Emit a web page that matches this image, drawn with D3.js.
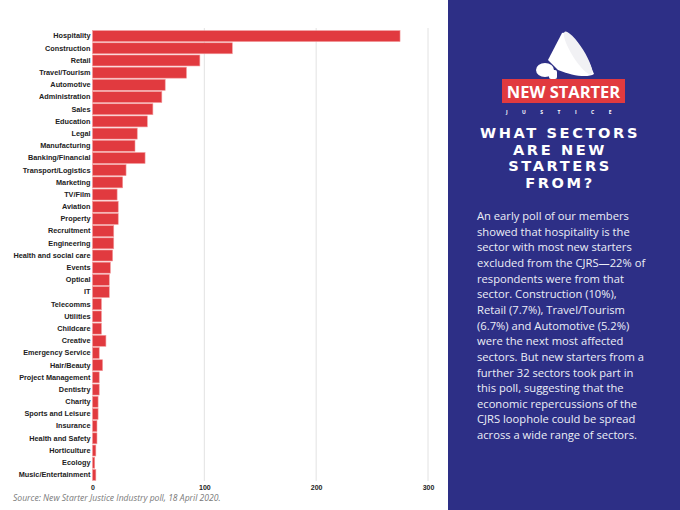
<!DOCTYPE html>
<html>
<head>
<meta charset="utf-8">
<script src="https://cdn.jsdelivr.net/npm/d3@7"></script>
<style>
  body { margin: 0; background: #fff; }
  svg { display: block; }
</style>
</head>
<body>
<div id="chart"></div>
<script>
// sectors, in the order shown (top to bottom)
const sectors = [
  "Hospitality", "Construction", "Retail", "Travel/Tourism", "Automotive",
  "Administration", "Sales", "Education", "Legal", "Manufacturing",
  "Banking/Financial", "Transport/Logistics", "Marketing", "TV/Film", "Aviation",
  "Property", "Recruitment", "Engineering", "Health and social care", "Events",
  "Optical", "IT", "Telecomms", "Utilities", "Childcare",
  "Creative", "Emergency Service", "Hair/Beauty", "Project Management", "Dentistry",
  "Charity", "Sports and Leisure", "Insurance", "Health and Safety", "Horticulture",
  "Ecology", "Music/Entertainment"
];
// respondents per sector
const respondents = [
  275, 125, 96, 84, 65,
  62, 54, 49, 40, 38,
  47, 30, 27, 22, 23,
  23, 19, 19, 18, 16,
  15, 15, 8, 8, 8,
  12, 6, 9, 6, 6,
  5, 5, 4, 4, 3,
  2, 3
];
const xTicks = [0, 100, 200, 300];

const titleLines = ["WHAT SECTORS", "ARE NEW", "STARTERS", "FROM?"];
const bodyLines = [
  "An early poll of our members",
  "showed that hospitality is the",
  "sector with most new starters",
  "excluded from the CJRS\u201422% of",
  "respondents were from that",
  "sector. Construction (10%),",
  "Retail (7.7%), Travel/Tourism",
  "(6.7%) and Automotive (5.2%)",
  "were the next most affected",
  "sectors. But new starters from a",
  "further 32 sectors took part in",
  "this poll, suggesting that the",
  "economic repercussions of the",
  "CJRS loophole could be spread",
  "across a wide range of sectors."
];

const data = sectors.map((s, i) => ({ sector: s, count: respondents[i] }));

const W = 680, H = 510;
const red = "#e13a3f";
const navy = "#2d2f86";

const svg = d3.select("#chart").append("svg")
  .attr("width", W).attr("height", H);

// scales
const xScale = d3.scaleLinear().domain([0, 300]).range([92.5, 428]);
const yScale = d3.scaleBand()
  .domain(sectors)
  .range([30, 481])
  .paddingInner(0.1)
  .paddingOuter(0.05);

// gridlines
svg.append("g")
  .selectAll("line")
  .data(xTicks.slice(1))
  .join("line")
  .attr("x1", d => xScale(d)).attr("x2", d => xScale(d))
  .attr("y1", 28).attr("y2", 481)
  .attr("stroke", "#e2e2e2")
  .attr("stroke-width", 1);

// bars
svg.append("g")
  .selectAll("rect")
  .data(data)
  .join("rect")
  .attr("x", xScale(0))
  .attr("y", d => yScale(d.sector))
  .attr("width", d => xScale(d.count) - xScale(0))
  .attr("height", yScale.bandwidth())
  .attr("fill", red)
  .attr("stroke", "#f29a9c")
  .attr("stroke-width", 0.6);

// category labels
const yAxis = svg.append("g")
  .attr("transform", `translate(${xScale(0) - 2},0)`)
  .call(d3.axisLeft(yScale).tickSize(0).tickPadding(0));
yAxis.select(".domain").remove();
yAxis.selectAll("text")
  .attr("fill", "#222")
  .style("font-family", "'Liberation Sans', Arial, sans-serif")
  .style("font-weight", "bold")
  .style("font-size", "7.3px");

// x axis
const xAxis = svg.append("g")
  .attr("transform", "translate(0,481)")
  .call(d3.axisBottom(xScale).tickValues(xTicks).tickSize(0).tickPadding(4));
xAxis.select(".domain").remove();
xAxis.selectAll("text")
  .attr("fill", "#222")
  .style("font-family", "'Liberation Sans', Arial, sans-serif")
  .style("font-weight", "bold")
  .style("font-size", "7px");

// source note
svg.append("text")
  .attr("x", 13).attr("y", 501)
  .attr("fill", "#7a7a7a")
  .style("font-family", "'Open Sans', sans-serif")
  .style("font-style", "italic")
  .style("font-size", "8.6px")
  .text("Source:  New Starter Justice Industry poll, 18 April 2020.");

// right panel
const panel = svg.append("g");
panel.append("rect")
  .attr("x", 448).attr("y", 0)
  .attr("width", W - 448).attr("height", H)
  .attr("fill", navy);

// megaphone
const mega = panel.append("g").attr("fill", "#fff");
mega.append("path")
  .attr("d", "M548,60 L562,33 C570,30 585,50 594,74 C588,78 572,76 558,70 Z");
mega.append("ellipse")
  .attr("cx", 578).attr("cy", 53)
  .attr("rx", 6).attr("ry", 25)
  .attr("transform", "rotate(-32,578,53)")
  .attr("fill", "#f1f1f4");
mega.append("ellipse")
  .attr("cx", 545).attr("cy", 70)
  .attr("rx", 9).attr("ry", 7);
mega.append("rect")
  .attr("x", 549).attr("y", 70)
  .attr("width", 8).attr("height", 9)
  .attr("rx", 2);

// logo box
panel.append("rect")
  .attr("x", 502).attr("y", 79)
  .attr("width", 123).attr("height", 24)
  .attr("fill", red);
panel.append("text")
  .attr("x", 563.5).attr("y", 98)
  .attr("text-anchor", "middle")
  .attr("fill", "#fff")
  .style("font-family", "'Open Sans', sans-serif")
  .style("font-weight", "bold")
  .style("font-size", "16.5px")
  .text("NEW STARTER");
panel.append("text")
  .attr("x", 566).attr("y", 114)
  .attr("text-anchor", "middle")
  .attr("fill", "#fff")
  .style("font-family", "'Open Sans', sans-serif")
  .style("font-weight", "bold")
  .style("font-size", "5px")
  .style("letter-spacing", "14.5px")
  .text("JUSTICE");

// title (letter-spacing adds trailing space, so nudge centre left)
panel.append("g")
  .selectAll("text")
  .data(titleLines)
  .join("text")
  .attr("x", 560)
  .attr("y", (d, i) => 138 + i * 16.6)
  .attr("text-anchor", "middle")
  .attr("fill", "#fff")
  .style("font-family", "'DejaVu Sans', sans-serif")
  .style("font-weight", "bold")
  .style("font-size", "14.6px")
  .style("letter-spacing", "2.6px")
  .text(d => d);

// body copy
panel.append("g")
  .selectAll("text")
  .data(bodyLines)
  .join("text")
  .attr("x", 477)
  .attr("y", (d, i) => 220 + i * 15.65)
  .attr("fill", "#eceef6")
  .style("font-family", "'Open Sans', sans-serif")
  .style("font-size", "11.2px")
  .text(d => d);
</script>
</body>
</html>
